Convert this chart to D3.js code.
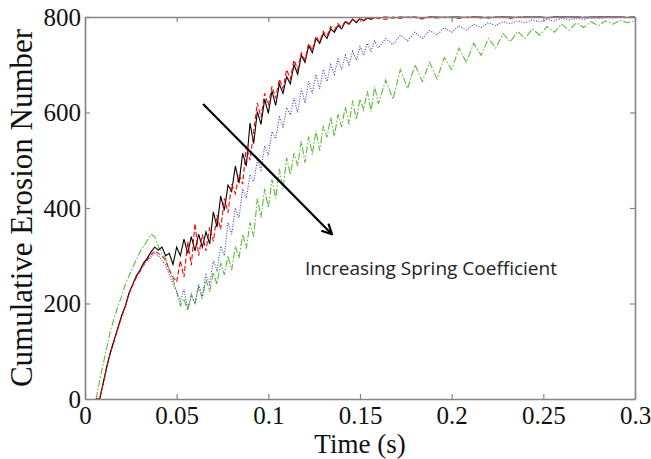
<!DOCTYPE html>
<html>
<head>
<meta charset="utf-8">
<script src="https://cdn.jsdelivr.net/npm/d3@7"></script>
<style>
  body { margin: 0; background: #fff; }
</style>
</head>
<body>
<div id="chart"></div>
<script>
// time samples (s)
const time = [
  0.006,0.008,0.010,0.012,0.014,0.016,0.018,0.020,0.022,0.024,
  0.026,0.028,0.030,0.032,0.034,0.036,0.038,0.040,0.042,0.044,
  0.046,0.048,0.050,0.052,0.054,0.056,0.058,0.060,0.062,0.064,
  0.066,0.068,0.070,0.072,0.074,0.076,0.078,0.080,0.082,0.084,
  0.086,0.088,0.090,0.092,0.094,0.096,0.098,0.100,0.102,0.104,
  0.106,0.108,0.110,0.112,0.114,0.116,0.118,0.120,0.122,0.124,
  0.126,0.128,0.130,0.132,0.134,0.136,0.138,0.140,0.142,0.144,
  0.146,0.148,0.150,0.152,0.154,0.156,0.158,0.160,0.164,0.168,
  0.172,0.176,0.180,0.184,0.188,0.192,0.196,0.200,0.204,0.208,
  0.212,0.216,0.220,0.224,0.228,0.232,0.236,0.240,0.244,0.248,
  0.252,0.256,0.260,0.264,0.268,0.272,0.276,0.280,0.284,0.288,
  0.292,0.296,0.300
];

// cumulative erosion number, one list per spring coefficient
const blackSeries = [
  0,0,35,70,100,125,150,175,195,222,
  240,258,270,285,295,308,318,312,318,300,
  305,282,318,300,335,305,340,310,345,318,
  350,325,392,360,425,395,448,435,488,452,
  515,488,578,535,602,575,628,598,645,615,
  660,640,675,660,700,680,720,705,740,725,
  755,745,765,755,775,768,782,775,790,785,
  795,788,797,792,798,795,799,798,800,798,
  800,799,800,798,800,800,799,800,800,799,
  800,800,798,800,800,800,799,800,800,800,
  799,800,800,800,800,799,800,800,800,800,
  800,799,800
];
const redSeries = [
  0,0,33,68,98,122,148,172,193,220,
  238,255,268,282,292,302,310,305,300,290,
  270,255,245,290,255,330,280,368,300,345,
  310,360,330,385,355,420,390,450,430,470,
  450,530,500,560,620,590,640,615,655,630,
  670,650,690,670,710,690,725,710,745,730,
  760,748,770,760,780,772,786,778,792,786,
  796,790,798,793,799,796,800,797,795,800,
  797,800,799,796,800,798,800,799,797,800,
  800,798,800,799,800,797,800,800,799,800,
  798,800,800,799,800,800,798,800,800,800,
  799,800,800
];
const blueSeries = [
  0,0,34,69,99,124,149,174,194,221,
  239,256,266,280,290,298,305,300,290,280,
  260,240,225,205,230,190,215,200,240,215,
  260,240,290,270,320,300,370,345,400,380,
  440,420,470,455,500,480,530,510,560,545,
  590,570,610,595,630,600,650,620,665,640,
  680,650,690,665,700,680,712,690,720,700,
  728,710,738,720,745,728,750,735,755,742,
  762,750,768,755,772,762,778,768,782,772,
  785,778,788,782,790,786,792,788,794,790,
  795,792,797,794,798,795,799,797,799,798,
  800,798,800
];
const greenSeries = [
  0,38,75,110,145,170,195,215,240,258,
  275,292,308,320,332,345,340,320,305,295,
  270,250,225,195,210,185,220,200,235,210,
  250,225,265,240,285,260,300,270,320,295,
  345,315,370,340,420,380,440,400,460,420,
  482,440,505,470,515,488,540,495,550,512,
  562,520,572,548,590,550,596,570,612,575,
  625,585,628,605,645,602,655,618,668,628,
  690,650,700,665,705,670,715,690,735,705,
  745,720,755,735,765,748,770,755,775,762,
  780,768,785,772,788,778,790,782,792,785,
  793,788,792
];

const xTicks = [0, 0.05, 0.1, 0.15, 0.2, 0.25, 0.3];
const xTickLabels = ['0', '0.05', '0.1', '0.15', '0.2', '0.25', '0.3'];
const yTicks = [0, 200, 400, 600, 800];
const yTickLabels = ['0', '200', '400', '600', '800'];

// arrow annotation: [time, value] start and end
const arrowFrom = [0.0644, 618];
const arrowTo = [0.1347, 345];
const noteText = 'Increasing Spring Coefficient';
const notePos = [0.12, 260];

const width = 651, height = 459;
const margin = { top: 17, right: 16, bottom: 60, left: 85 };

const svg = d3.select('#chart')
  .append('svg')
  .attr('width', width)
  .attr('height', height);

const x = d3.scaleLinear().domain([0, 0.3]).range([margin.left, width - margin.right]);
const y = d3.scaleLinear().domain([0, 800]).range([height - margin.bottom, margin.top]);

const axisColor = '#858585';
const tickFont = '"Liberation Serif", "Times New Roman", serif';

// series lines
const series = [
  { values: greenSeries, color: '#62b83e', dash: '7,2,1.5,2', width: 1.1 },
  { values: blueSeries, color: '#3a3ac4', dash: '1,1.6', width: 1.1 },
  { values: blackSeries, color: '#000000', dash: null, width: 1.1 },
  { values: redSeries, color: '#ff0000', dash: '5,2.5', width: 1.1 }
];

const line = d3.line()
  .x((d, i) => x(time[i]))
  .y(d => y(d));

svg.append('g')
  .selectAll('path')
  .data(series)
  .join('path')
  .attr('d', d => line(d.values))
  .attr('fill', 'none')
  .attr('stroke', d => d.color)
  .attr('stroke-width', d => d.width)
  .attr('stroke-dasharray', d => d.dash);

// axes, ticks pointing inward on all four sides
const fmtX = d => xTickLabels[xTicks.indexOf(d)];
const fmtY = d => yTickLabels[yTicks.indexOf(d)];

const gx = svg.append('g')
  .attr('transform', `translate(0,${y(0)})`)
  .call(d3.axisBottom(x).tickValues(xTicks).tickFormat(fmtX).tickSizeInner(-5).tickSizeOuter(0).tickPadding(7));
const gy = svg.append('g')
  .attr('transform', `translate(${x(0)},0)`)
  .call(d3.axisLeft(y).tickValues(yTicks).tickFormat(fmtY).tickSizeInner(-5).tickSizeOuter(0).tickPadding(4));
const gxTop = svg.append('g')
  .attr('transform', `translate(0,${y(800)})`)
  .call(d3.axisTop(x).tickValues(xTicks).tickFormat('').tickSizeInner(-5).tickSizeOuter(0));
const gyRight = svg.append('g')
  .attr('transform', `translate(${x(0.3)},0)`)
  .call(d3.axisRight(y).tickValues(yTicks).tickFormat('').tickSizeInner(-5).tickSizeOuter(0));

[gx, gy, gxTop, gyRight].forEach(g => {
  g.select('.domain').attr('stroke', axisColor).attr('stroke-width', 1.6);
  g.selectAll('.tick line').attr('stroke', axisColor).attr('stroke-width', 1.2);
  g.selectAll('.tick text')
    .attr('fill', '#111')
    .style('font-family', tickFont)
    .style('font-size', '25px');
});

// axis titles
svg.append('text')
  .attr('x', (x(0) + x(0.3)) / 2)
  .attr('y', 453)
  .attr('text-anchor', 'middle')
  .style('font-family', tickFont)
  .style('font-size', '27px')
  .attr('fill', '#111')
  .text('Time (s)');

svg.append('text')
  .attr('transform', `translate(32,${(y(0) + y(800)) / 2}) rotate(-90)`)
  .attr('text-anchor', 'middle')
  .style('font-family', tickFont)
  .style('font-size', '31px')
  .attr('fill', '#111')
  .text('Cumulative Erosion Number');

// arrow
svg.append('defs')
  .append('marker')
  .attr('id', 'arrowhead')
  .attr('viewBox', '0 0 12 12')
  .attr('refX', 11)
  .attr('refY', 6)
  .attr('markerWidth', 12)
  .attr('markerHeight', 12)
  .attr('markerUnits', 'userSpaceOnUse')
  .attr('orient', 'auto')
  .append('path')
  .attr('d', 'M 1 1 L 11 6 L 1 11')
  .attr('fill', 'none')
  .attr('stroke', '#000')
  .attr('stroke-width', 2.2);

svg.append('line')
  .attr('x1', x(arrowFrom[0]))
  .attr('y1', y(arrowFrom[1]))
  .attr('x2', x(arrowTo[0]))
  .attr('y2', y(arrowTo[1]))
  .attr('stroke', '#000')
  .attr('stroke-width', 2.2)
  .attr('marker-end', 'url(#arrowhead)');

svg.append('text')
  .attr('x', x(notePos[0]))
  .attr('y', y(notePos[1]))
  .style('font-family', '"Open Sans", sans-serif')
  .style('font-size', '19px')
  .attr('fill', '#222')
  .text(noteText);
</script>
</body>
</html>
